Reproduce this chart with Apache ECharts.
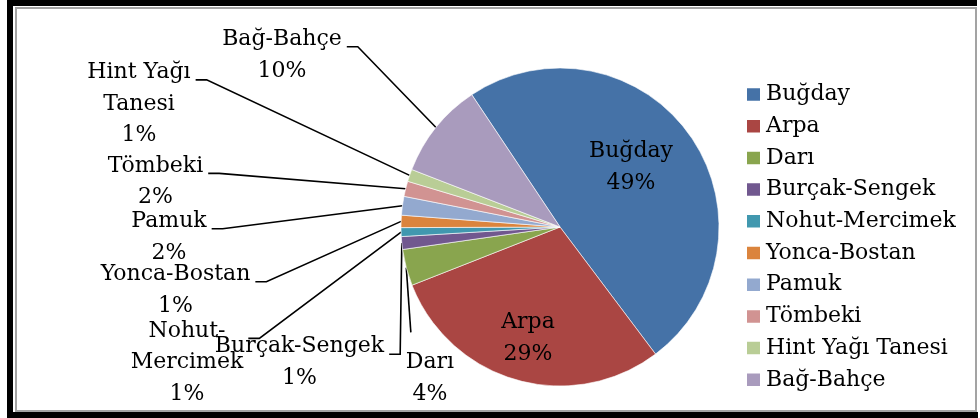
<!DOCTYPE html>
<html>
<head>
<meta charset="utf-8">
<script src="https://cdn.jsdelivr.net/npm/echarts@6/dist/echarts.min.js"></script>
<style>
html, body { margin: 0; padding: 0; background: #fff; }
#main { width: 980px; height: 418px; }
</style>
</head>
<body>
<div id="main"></div>
<script>
// data (shares in percent)
var categories = ["Buğday", "Arpa", "Darı", "Burçak-Sengek", "Nohut-Mercimek", "Yonca-Bostan", "Pamuk", "Tömbeki", "Hint Yağı Tanesi", "Bağ-Bahçe"];
var shares = [49.1, 29.3, 3.7, 1.3, 0.9, 1.25, 1.9, 1.55, 1.25, 9.75];
var labelNames = ["Buğday", "Arpa", "Darı", "Burçak-Sengek", "Nohut-\nMercimek", "Yonca-Bostan", "Pamuk", "Tömbeki", "Hint Yağı\nTanesi", "Bağ-Bahçe"];
var colors = ["#4572A7", "#AA4643", "#89A54E", "#71588F", "#4198AF", "#DB843D", "#93A9CF", "#D19392", "#B9CD96", "#A99BBD"];

// where each label block sits (centre) and which side the leader joins
var labelPos = [[631, 167.5], [528, 338], [430, 378], [299.5, 362.5], [187, 362.5], [175.5, 290], [169, 237], [155.5, 181.7], [139, 104], [282, 55]];
var leaderSide = ["none", "none", "top", "right", "right", "right", "right", "right", "right", "right"];

var FONT = "DejaVu Serif";
var LH = 31.6;

var myChart = echarts.init(document.getElementById("main"));

var pieData = [];
for (var i = 0; i < categories.length; i++) {
  var item = { name: categories[i], value: shares[i], itemStyle: { color: colors[i] } };
  if (leaderSide[i] === "none") {
    item.label = { position: "inside" };
    item.labelLine = { show: false };
  }
  pieData.push(item);
}

var option = {
  animation: false,
  graphic: [
    { type: "rect", shape: { x: 7, y: 0, width: 970, height: 6 }, style: { fill: "#000" }, silent: true },
    { type: "rect", shape: { x: 7, y: 0, width: 6, height: 418 }, style: { fill: "#000" }, silent: true },
    { type: "rect", shape: { x: 7, y: 412, width: 971, height: 6 }, style: { fill: "#000" }, silent: true },
    { type: "rect", shape: { x: 16, y: 8, width: 960, height: 403 }, style: { fill: null, stroke: "#a3a3a3", lineWidth: 2 }, silent: true }
  ],
  legend: {
    orient: "vertical",
    left: 740,
    top: 78.5,
    icon: "rect",
    itemWidth: 15,
    itemHeight: 14.5,
    itemGap: 9.7,
    selectedMode: false,
    textStyle: { fontFamily: FONT, fontSize: 22, color: "#000" },
    data: categories
  },
  series: [
    {
      type: "pie",
      center: [560, 227],
      radius: 159,
      startAngle: 123.7,
      clockwise: true,
      avoidLabelOverlap: false,
      silent: true,
      itemStyle: { borderColor: "#fff", borderWidth: 0.6 },
      label: {
        position: "outside",
        fontFamily: FONT,
        fontSize: 22,
        lineHeight: LH,
        color: "#000",
        align: "center",
        formatter: function (p) {
          return labelNames[p.dataIndex] + "\n" + Math.round(p.percent) + "%";
        }
      },
      labelLine: { show: true, length: 10, length2: 10, lineStyle: { color: "#000", width: 1.6 } },
      labelLayout: function (p) {
        var i = p.dataIndex;
        var c = labelPos[i];
        var out = { x: c[0], y: c[1], align: "center", verticalAlign: "middle" };
        var side = leaderSide[i];
        if (side !== "none" && p.labelLinePoints) {
          var w = p.labelRect.width, h = p.labelRect.height;
          var top = c[1] - h / 2;
          var start = p.labelLinePoints[0];
          if (side === "right") {
            var ay = top + 23.3;
            var ax = c[0] + w / 2 + 5;
            out.labelLinePoints = [start, [ax + 11, ay], [ax, ay]];
          } else {
            var tx = c[0] - w / 2 + 5, ty = top - 14;
            out.labelLinePoints = [start, [tx, ty], [tx, ty]];
          }
        }
        return out;
      },
      data: pieData
    }
  ]
};

myChart.setOption(option);
</script>
</body>
</html>
